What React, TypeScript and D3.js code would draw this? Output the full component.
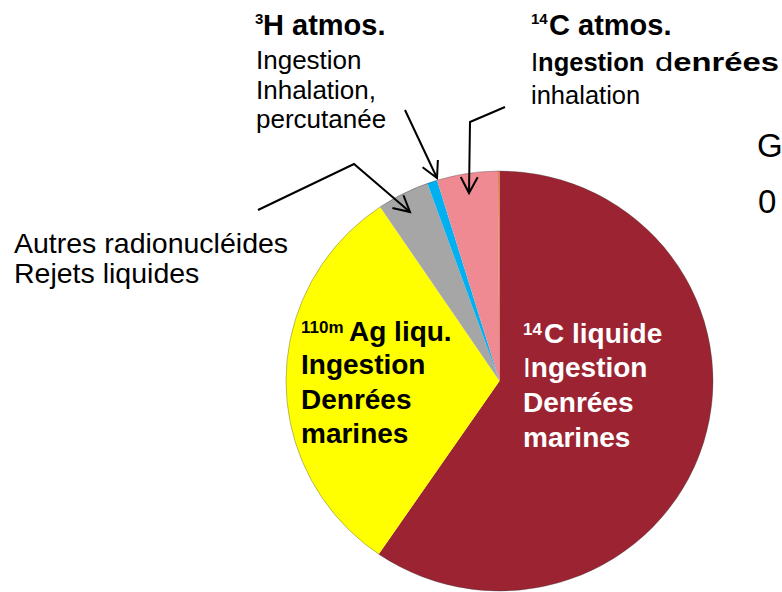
import React from "react";
import * as d3 from "d3";

const W = 782;
const H = 592;

// Slices, clockwise from 12 o'clock
const sliceNames = ["14C liquide", "110mAg liqu.", "Autres radionucléides", "3H atmos.", "14C atmos.", "Autres"];
const sliceValues = [59.6, 31.0, 3.96, 0.76, 4.62, 0.11];
const sliceColors = ["#9C2432", "#FFFF00", "#A6A6A6", "#00B0F0", "#EF8A93", "#E07B39"];

// annotation arrows: polyline points, last point is arrow tip
const arrowPaths: [number, number][][] = [
  [[405, 110], [437, 178]],
  [[505, 107], [470, 122], [469, 193]],
  [[258, 210], [354, 164], [410, 212]],
];

const FONT = "'Liberation Sans', Arial, Helvetica, sans-serif";

function arrowHead(pts: [number, number][]) {
  const [x2, y2] = pts[pts.length - 1];
  const [x1, y1] = pts[pts.length - 2];
  const a = Math.atan2(y1 - y2, x1 - x2);
  const L = 18;
  const da = (28 * Math.PI) / 180;
  const p1 = [x2 + L * Math.cos(a + da), y2 + L * Math.sin(a + da)];
  const p2 = [x2 + L * Math.cos(a - da), y2 + L * Math.sin(a - da)];
  return `M${p1[0]},${p1[1]}L${x2},${y2}L${p2[0]},${p2[1]}`;
}

export default function App() {
  const cx = 499.5;
  const cy = 381;
  const r = 210;
  const sx = 213.5 / 210;
  const pie = d3.pie<number>().sort(null).value((d) => d);
  const arcs = pie(sliceValues);
  const arcGen = d3.arc<d3.PieArcDatum<number>>().innerRadius(0).outerRadius(r);
  const line = d3.line();

  return (
    <svg
      width={W}
      height={H}
      style={{ position: "absolute", left: 0, top: 0, background: "#fff" }}
      fontFamily={FONT}
    >
      <g transform={`translate(${cx},${cy}) scale(${sx},1)`}>
        {arcs.map((a, i) => (
          <path key={sliceNames[i]} d={arcGen(a) || ""} fill={sliceColors[i]} />
        ))}
        <circle r={r} fill="none" stroke="rgba(60,60,60,0.45)" strokeWidth={0.8} />
      </g>

      {/* arrows */}
      {arrowPaths.map((p, i) => (
        <g key={i} fill="none" stroke="#000" strokeWidth={2}>
          <path d={line(p) || ""} />
          <path d={arrowHead(p)} />
        </g>
      ))}

      {/* 3H atmos. */}
      <text x={255} y={24} fontSize={15} fontWeight="bold">3</text>
      <text x={263} y={35} fontSize={29} fontWeight="bold">H atmos.</text>
      <g fontSize={26}>
        <text x={256} y={69}>Ingestion</text>
        <text x={256} y={98.5}>Inhalation,</text>
        <text x={256} y={128}>percutanée</text>
      </g>

      {/* 14C atmos. */}
      <text x={531} y={24} fontSize={15} fontWeight="bold">14</text>
      <text x={549} y={35} fontSize={29} fontWeight="bold">C atmos.</text>
      <text x={531} y={71} fontSize={25.5}>
        <tspan>I</tspan>
        <tspan fontWeight="bold">ngestion</tspan>
      </text>
      <text x={655} y={71} fontSize={25.5} textLength={124} lengthAdjust="spacingAndGlyphs">
        <tspan>d</tspan>
        <tspan fontWeight="bold">enrées</tspan>
      </text>
      <text x={531} y={104} fontSize={25.5}>inhalation</text>

      {/* Autres radionucléides */}
      <g fontSize={28.5}>
        <text x={14} y={253}>Autres radionucléides</text>
        <text x={14} y={283}>Rejets liquides</text>
      </g>

      {/* 110mAg */}
      <g fontWeight="bold" fill="#000">
        <text x={301} y={333} fontSize={17}>110m</text>
        <text x={349} y={341} fontSize={28}>Ag liqu.</text>
        <text x={301} y={374} fontSize={28}>Ingestion</text>
        <text x={301} y={408.5} fontSize={28}>Denrées</text>
        <text x={301} y={443} fontSize={28}>marines</text>
      </g>

      {/* 14C liquide */}
      <g fontWeight="bold" fill="#fff">
        <text x={523} y={335} fontSize={17}>14</text>
        <text x={544} y={343} fontSize={28}>C liquide</text>
        <text x={523} y={377} fontSize={28}>
          <tspan fontWeight="normal">I</tspan>
          <tspan>ngestion</tspan>
        </text>
        <text x={523} y={411.5} fontSize={28}>Denrées</text>
        <text x={523} y={446.5} fontSize={28}>marines</text>
      </g>

      {/* cut-off title on the right */}
      <text x={757} y={157} fontSize={33}>G</text>
      <text x={758} y={213} fontSize={33}>0</text>
    </svg>
  );
}
